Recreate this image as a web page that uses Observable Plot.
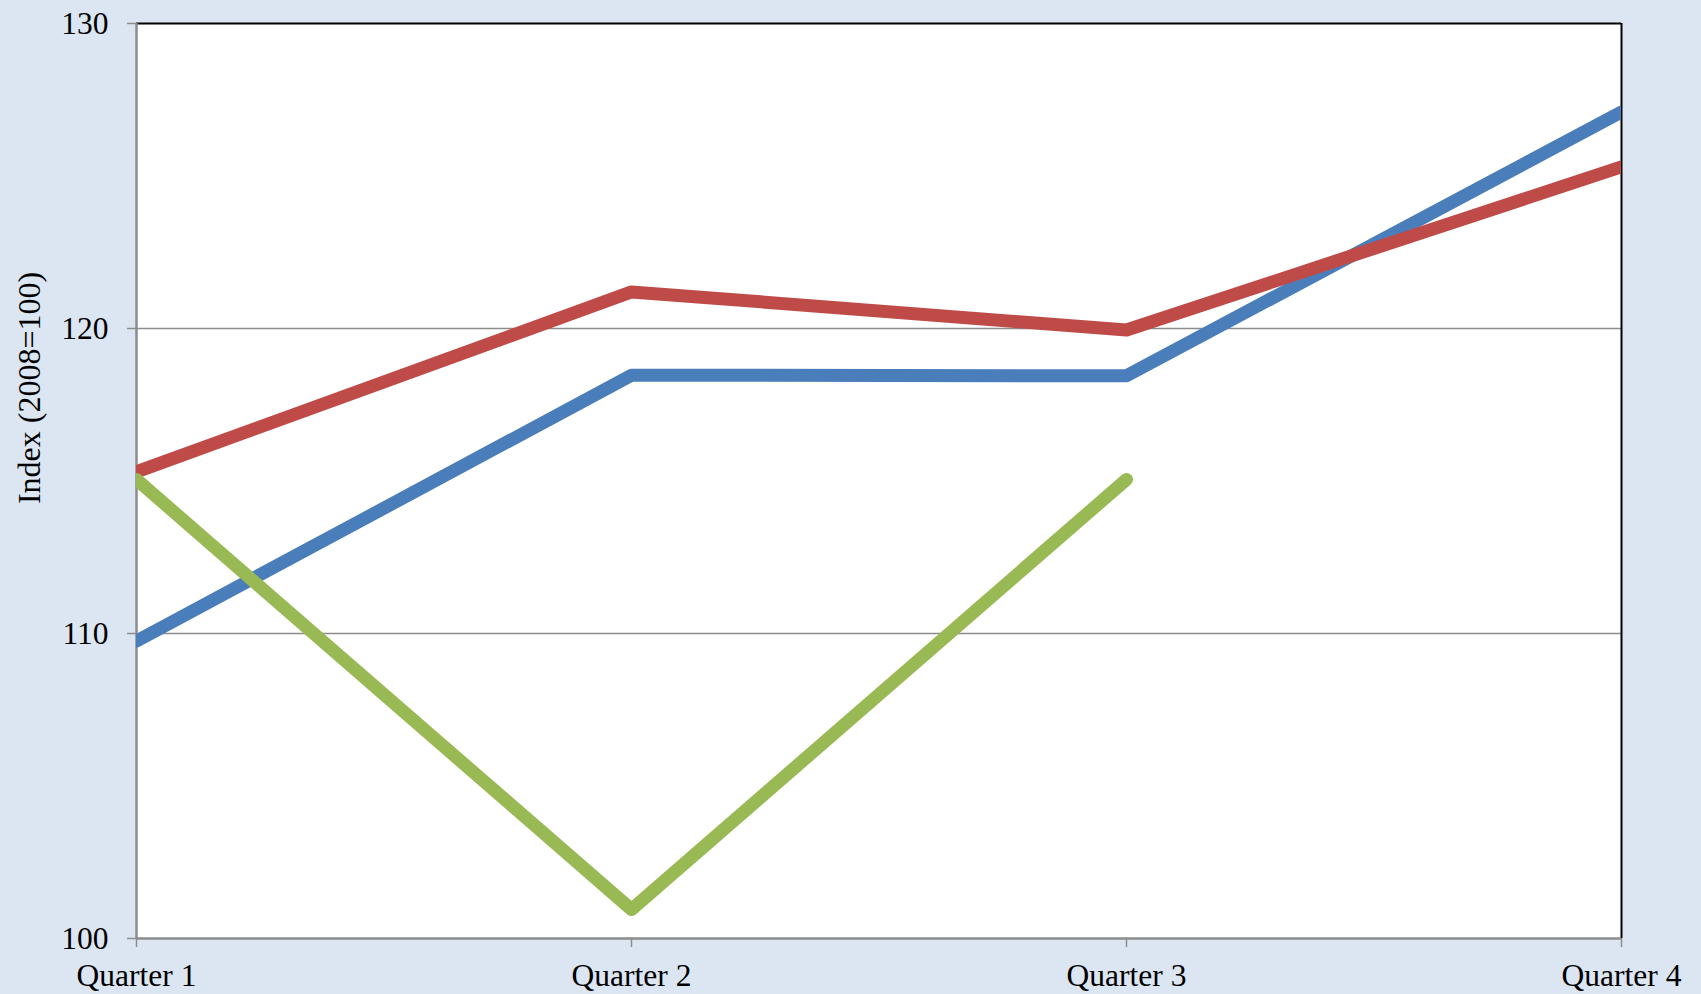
<!DOCTYPE html>
<html>
<head>
<meta charset="utf-8">
<script src="https://cdn.jsdelivr.net/npm/d3@7"></script>
<script src="https://cdn.jsdelivr.net/npm/@observablehq/plot@0.6"></script>
<style>
  html, body { margin: 0; padding: 0; background: #dce6f2; }
  #chart { width: 1701px; height: 994px; }
  svg { display: block; }
</style>
</head>
<body>
<div id="chart"></div>
<script>
const quarters = ["Quarter 1", "Quarter 2", "Quarter 3", "Quarter 4"];
const seriesNames = ["Blue", "Red", "Green"];
const blueValues = [109.75, 118.47, 118.45, 127.1];
const redValues = [115.3, 121.2, 119.95, 125.3];
const greenValues = [115.05, 100.95, 115.05, null];
const seriesColors = ["#4a7ebb", "#be4b48", "#98b954"];
const yTicks = [100, 110, 120, 130];
const gridTicks = [110, 120];
const yTitle = "Index (2008=100)";

const valuesBySeries = [blueValues, redValues, greenValues];
const data = [];
seriesNames.forEach((s, i) => {
  quarters.forEach((q, j) => {
    const v = valuesBySeries[i][j];
    if (v != null) data.push({series: s, quarter: q, value: v});
  });
});

const mLeft = 136, mRight = 80, mTop = 23, mBottom = 56;

const lineMarks = seriesNames.map((s, i) =>
  Plot.line(data.filter(d => d.series === s), {
    x: "quarter", y: "value",
    stroke: seriesColors[i], strokeWidth: 13,
    strokeLinecap: "round", strokeLinejoin: "round",
    clip: true
  })
);

const chart = Plot.plot({
  width: 1701,
  height: 994,
  marginLeft: mLeft,
  marginRight: mRight,
  marginTop: mTop,
  marginBottom: mBottom,
  style: {background: "#dce6f2", fontFamily: "'Liberation Serif', 'Times New Roman', serif", fontSize: "31px", color: "#000"},
  x: {type: "point", domain: quarters, padding: 0, label: null},
  y: {domain: [100, 130], label: null},
  marks: [
    Plot.frame({fill: "white", stroke: null}),
    Plot.ruleY(gridTicks, {stroke: "#8c8c8c", strokeWidth: 1.5}),
    Plot.ruleY([130], {stroke: "#000", strokeWidth: 2}),
    Plot.ruleX([quarters[3]], {stroke: "#000", strokeWidth: 2}),
    Plot.ruleX([quarters[0]], {stroke: "#8c8c8c", strokeWidth: 2.5}),
    Plot.ruleY([100], {stroke: "#8c8c8c", strokeWidth: 2.5}),
    Plot.axisY(yTicks, {tickSize: 9, tickPadding: 19, stroke: "#8c8c8c", strokeWidth: 1.5, fill: "#000", fontSize: 31.5, label: null}),
    Plot.axisX(quarters, {tickSize: 9, tickPadding: 16, stroke: "#8c8c8c", strokeWidth: 1.5, fill: "#000", fontSize: 31.5, label: null, textAnchor: "middle"}),
    ...lineMarks,
    Plot.text([yTitle], {
      text: d => d, frameAnchor: "left", textAnchor: "middle", dx: -107, rotate: -90, fontSize: 32, fill: "#000",
      y: () => 118.05
    })
  ]
});
document.getElementById("chart").appendChild(chart);
</script>
</body>
</html>
